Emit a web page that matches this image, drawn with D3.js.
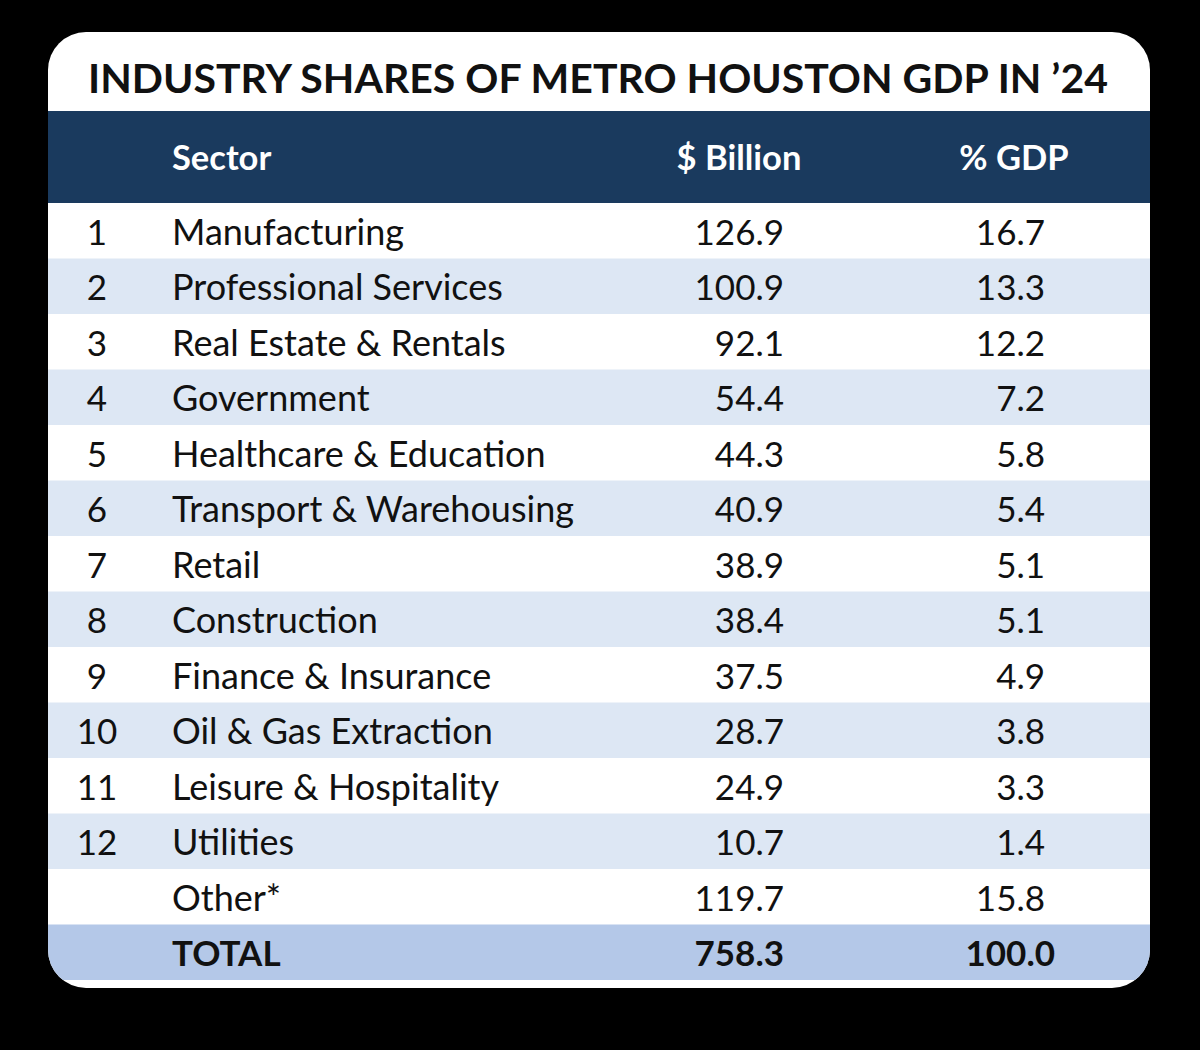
<!DOCTYPE html>
<html>
<head>
<meta charset="utf-8">
<script src="https://cdn.jsdelivr.net/npm/d3@7"></script>
<style>
  html, body { margin: 0; padding: 0; background: #000; }
  svg { display: block; }
  text { font-family: Lato, "Open Sans", sans-serif; }
</style>
</head>
<body>
<script>
// table data
var title = 'INDUSTRY SHARES OF METRO HOUSTON GDP IN \u201924';
var columns = ['', 'Sector', '$ Billion', '% GDP'];
var ranks = ['1', '2', '3', '4', '5', '6', '7', '8', '9', '10', '11', '12', '', ''];
var sectors = ['Manufacturing', 'Professional Services', 'Real Estate & Rentals', 'Government',
  'Healthcare & Education', 'Transport & Warehousing', 'Retail', 'Construction',
  'Finance & Insurance', 'Oil & Gas Extraction', 'Leisure & Hospitality', 'Utilities',
  'Other*', 'TOTAL'];
var billions = [126.9, 100.9, 92.1, 54.4, 44.3, 40.9, 38.9, 38.4, 37.5, 28.7, 24.9, 10.7, 119.7, 758.3];
var shares = [16.7, 13.3, 12.2, 7.2, 5.8, 5.4, 5.1, 5.1, 4.9, 3.8, 3.3, 1.4, 15.8, 100.0];

var width = 1200,
    height = 1050;

var card = {x: 48, y: 32, w: 1102, h: 956, r: 38};

var svg = d3.select('body')
    .append('svg')
    .attr('width', width)
    .attr('height', height);

svg.append('defs').append('clipPath')
    .attr('id', 'cardClip')
  .append('rect')
    .attr('x', card.x)
    .attr('y', card.y)
    .attr('width', card.w)
    .attr('height', card.h)
    .attr('rx', card.r);

svg.append('rect')
    .attr('x', card.x)
    .attr('y', card.y)
    .attr('width', card.w)
    .attr('height', card.h)
    .attr('rx', card.r)
    .attr('fill', '#fff');

var g = svg.append('g').attr('clip-path', 'url(#cardClip)');

var y = d3.scaleBand()
    .domain(d3.range(sectors.length))
    .range([203, 980]);

// column anchors
var colX = {rank: 97, sector: 172, billion: 784, share: 1045, shareTotal: 1055};

// title
svg.append('text')
    .attr('x', 598)
    .attr('y', 93)
    .attr('text-anchor', 'middle')
    .attr('font-size', 41)
    .attr('font-weight', 700)
    .attr('fill', '#111')
    .text(title);

// header band
g.append('rect')
    .attr('x', card.x)
    .attr('y', 111)
    .attr('width', card.w)
    .attr('height', 92)
    .attr('fill', '#1a3a5e');

var header = svg.append('g')
    .attr('font-size', 34.5)
    .attr('font-weight', 700)
    .attr('fill', '#fff');

header.append('text').attr('x', colX.sector).attr('y', 170).text(columns[1]);
header.append('text').attr('x', 739).attr('y', 170).attr('text-anchor', 'middle').text(columns[2]);
header.append('text').attr('x', 1014).attr('y', 170).attr('text-anchor', 'middle').text(columns[3]);

// rows
var last = sectors.length - 1;
function rowFill(i) {
  if (i === last) return '#b4c8e8';
  return i % 2 === 1 ? '#dde7f4' : '#fff';
}

var rows = g.selectAll('g.row')
    .data(d3.range(sectors.length))
    .enter()
    .append('g')
    .attr('class', 'row')
    .attr('transform', function(i) { return 'translate(0,' + y(i) + ')'; });

rows.append('rect')
    .attr('x', card.x)
    .attr('width', card.w)
    .attr('height', y.bandwidth())
    .attr('fill', rowFill);

var base = 41.5;

function addText(sel, x, anchor, size, fn) {
  sel.append('text')
      .attr('x', x)
      .attr('y', base)
      .attr('text-anchor', anchor)
      .attr('font-size', size)
      .attr('font-weight', function(i) { return i === last ? 700 : 400; })
      .attr('fill', '#111')
      .text(fn);
}

addText(rows, colX.rank, 'middle', 35, function(i) { return ranks[i]; });
addText(rows, colX.sector, 'start', function(i) { return i === last ? 35 : 36; }, function(i) { return sectors[i]; });
addText(rows, colX.billion, 'end', 35, function(i) { return d3.format('.1f')(billions[i]); });
addText(rows, function(i) { return i === last ? colX.shareTotal : colX.share; }, 'end', 35,
    function(i) { return d3.format('.1f')(shares[i]); });
</script>
</body>
</html>
